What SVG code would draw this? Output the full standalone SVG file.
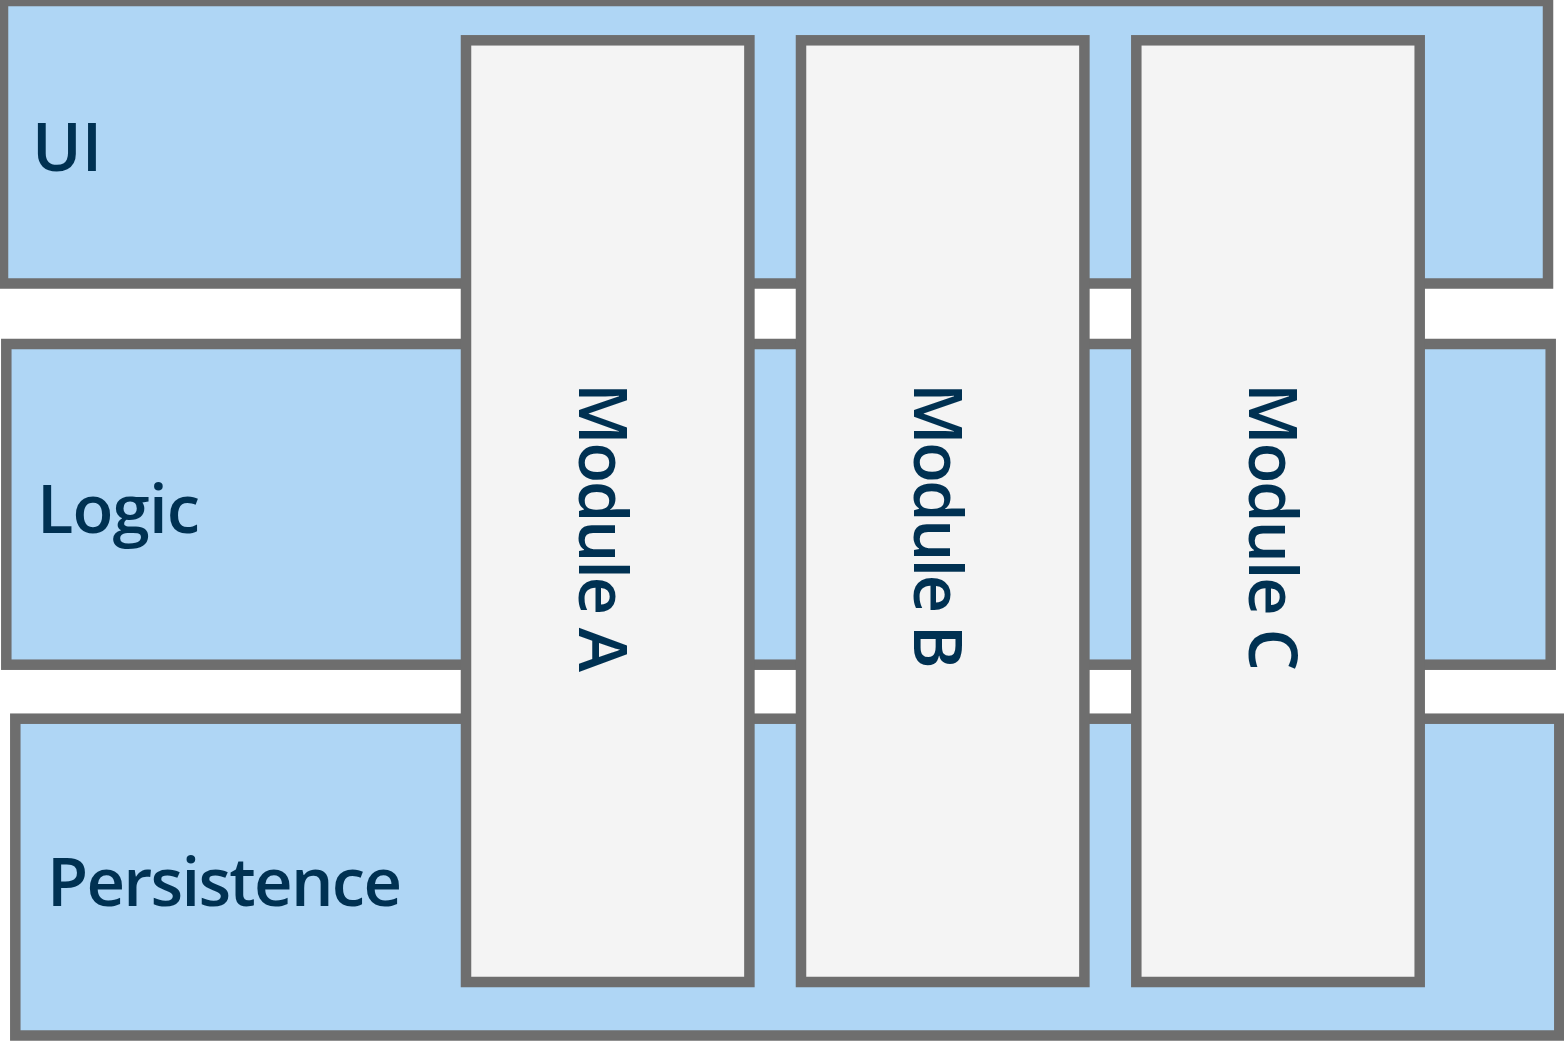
<svg xmlns="http://www.w3.org/2000/svg" width="1564" height="1044" viewBox="0 0 1564 1044">
<style>
.layer{fill:#afd6f5;stroke:#6e6e6e;stroke-width:10.5}
.module{fill:#f4f4f4;stroke:#6e6e6e;stroke-width:10.5}
.lbl{font-family:"Open Sans","Noto Sans","Liberation Sans",sans-serif;font-weight:600;font-size:67px;fill:#003152}
</style>
<rect width="1564" height="1044" fill="#ffffff"/>
<g id="layer-ui">
<rect class="layer" x="3" y="1" width="1545" height="282.5"/>
<text class="lbl" x="32" y="171">UI</text>
</g>
<g id="layer-logic">
<rect class="layer" x="6.3" y="344" width="1544.4" height="320.7"/>
<text class="lbl" x="37" y="533" textLength="163" lengthAdjust="spacing">Logic</text>
</g>
<g id="layer-persistence">
<rect class="layer" x="15.3" y="718.7" width="1544" height="316.8"/>
<text class="lbl" x="47" y="906" textLength="355" lengthAdjust="spacing">Persistence</text>
</g>
<g id="module-a">
<rect class="module" x="466" y="40.3" width="283.4" height="941.7"/>
<text class="lbl" text-anchor="middle" transform="translate(579,527.5) rotate(90)" textLength="289" lengthAdjust="spacing">Module A</text>
</g>
<g id="module-b">
<rect class="module" x="801" y="40.3" width="283.4" height="941.7"/>
<text class="lbl" text-anchor="middle" transform="translate(914,526) rotate(90)" textLength="286" lengthAdjust="spacing">Module B</text>
</g>
<g id="module-c">
<rect class="module" x="1136.3" y="40.3" width="283.4" height="941.7"/>
<text class="lbl" text-anchor="middle" transform="translate(1249,527) rotate(90)" textLength="288" lengthAdjust="spacing">Module C</text>
</g>
<g id="connectors"/>
</svg>
